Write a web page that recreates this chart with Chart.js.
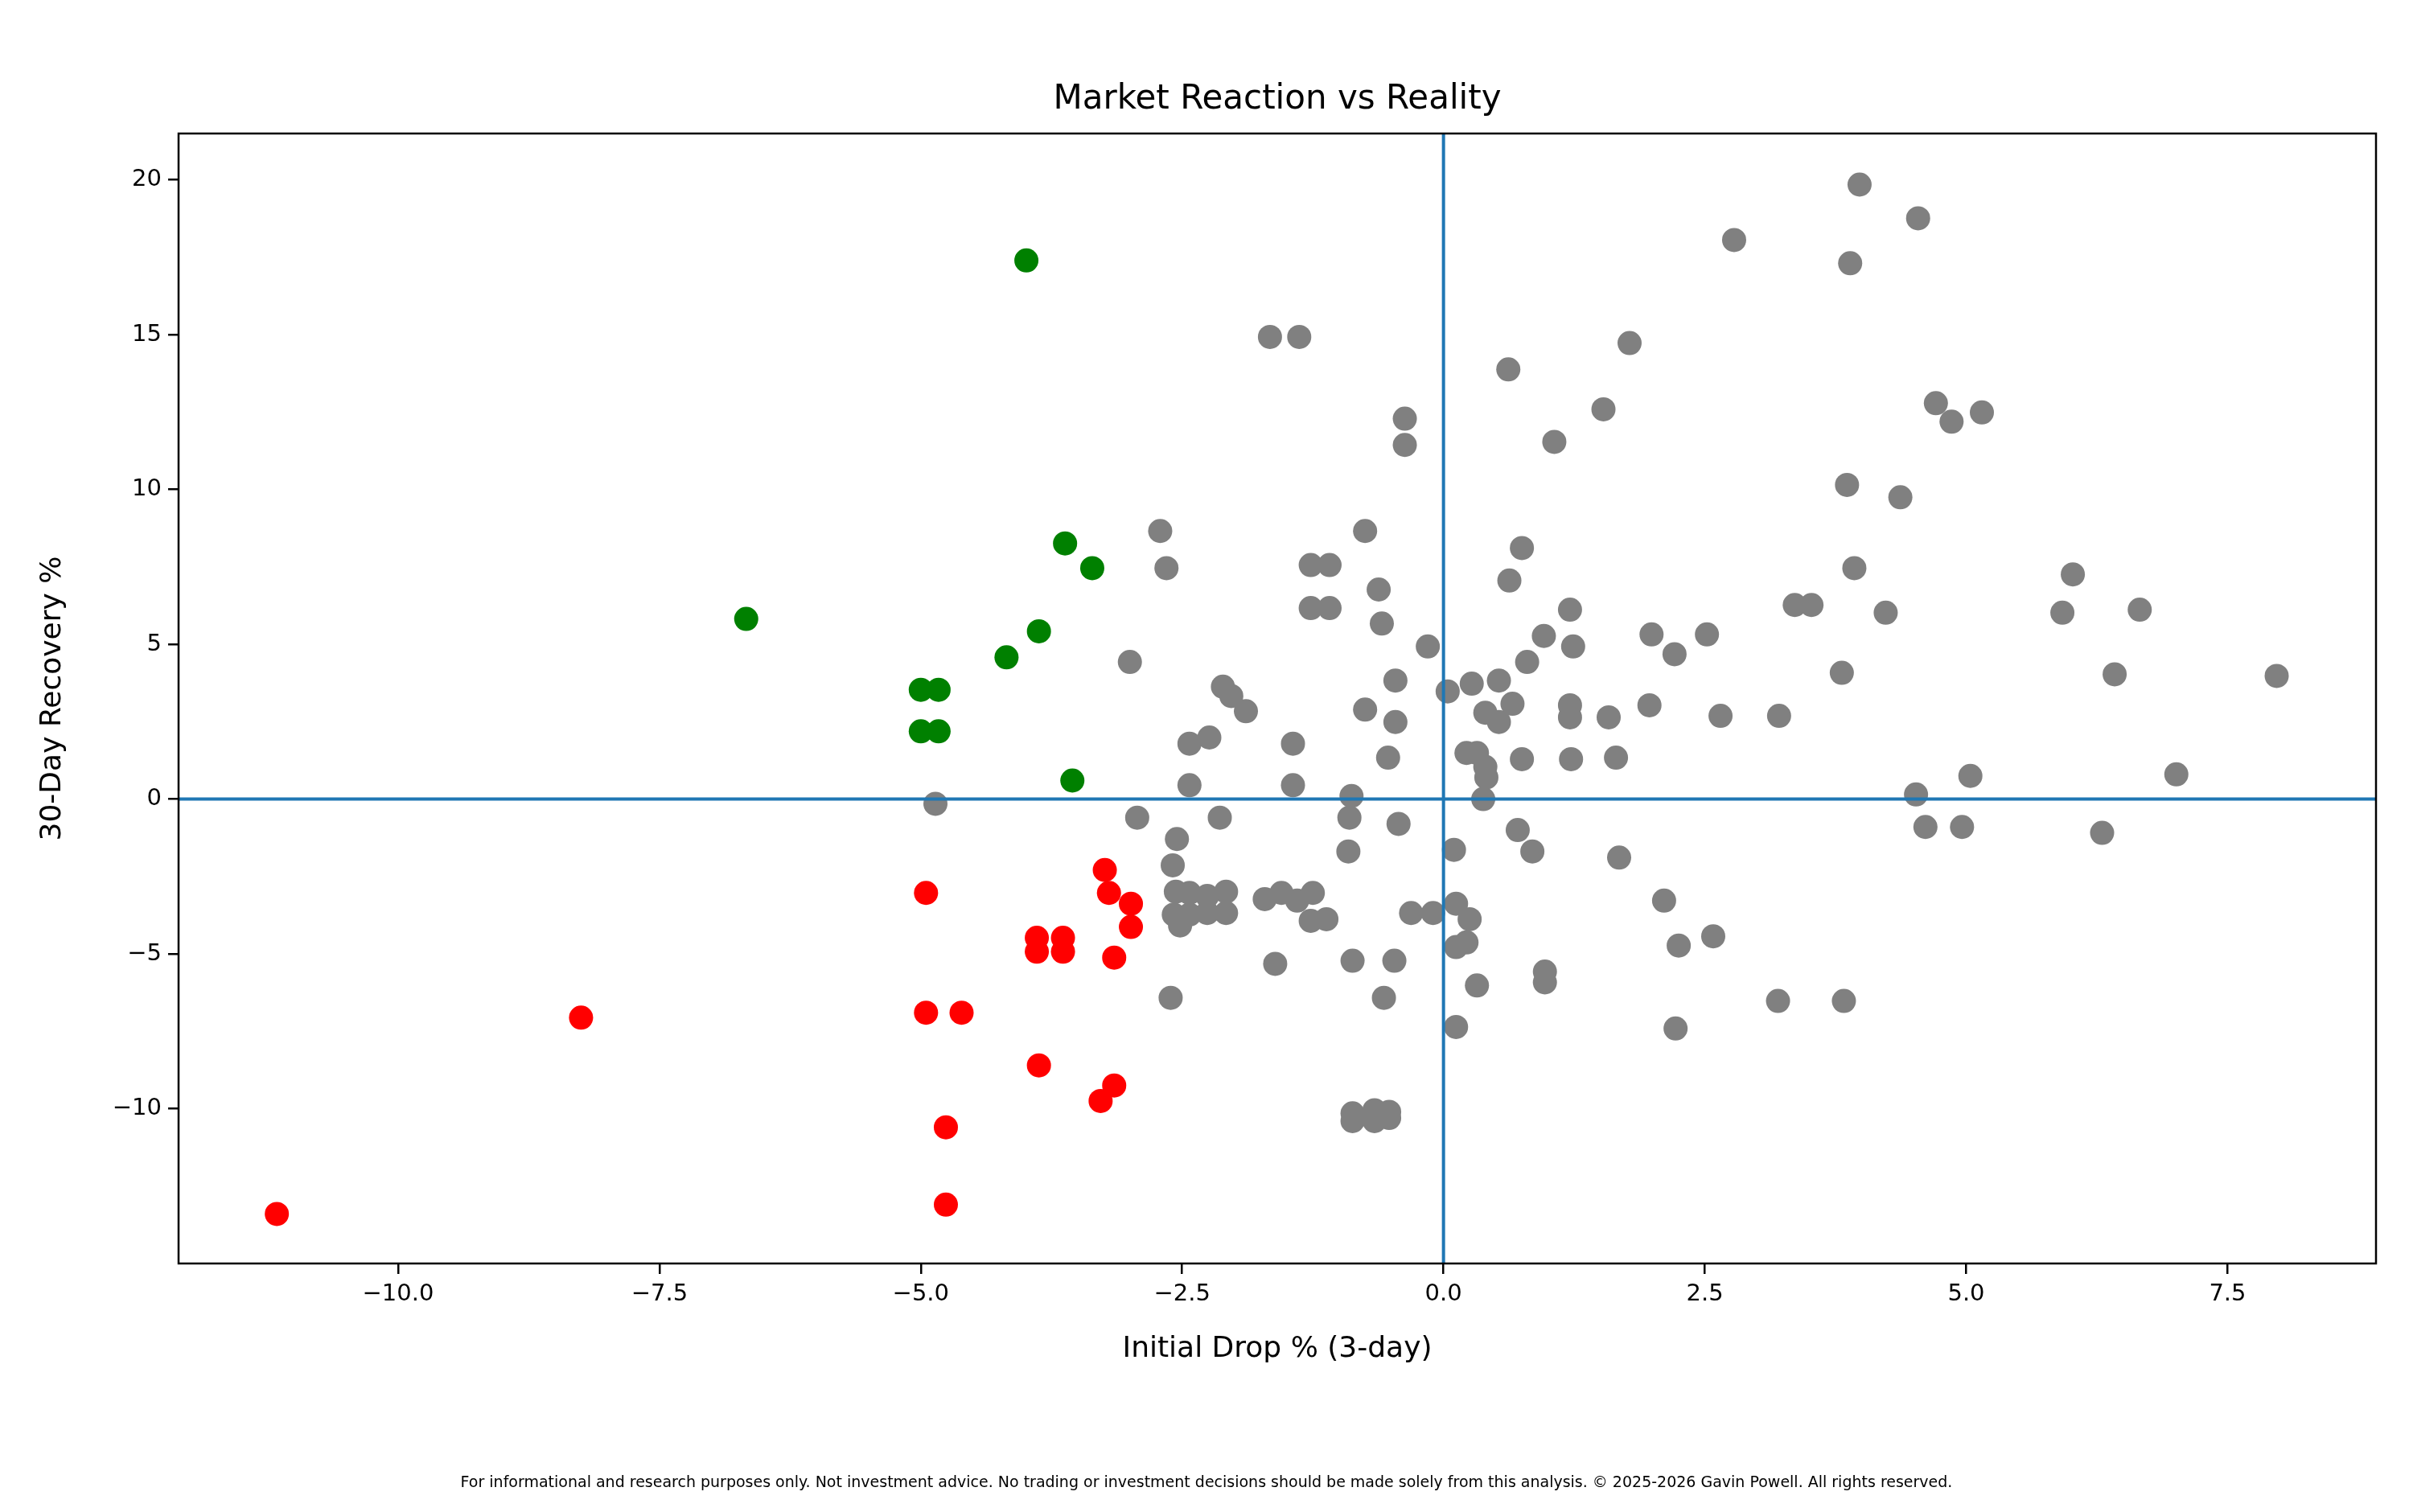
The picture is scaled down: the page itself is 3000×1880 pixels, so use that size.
<!DOCTYPE html>
<html>
<head>
<meta charset="utf-8">
<script src="https://cdn.jsdelivr.net/npm/chart.js@4"></script>
<style>
  html, body { margin: 0; padding: 0; background: #fff; }
  #wrap { width: 3000px; height: 1880px; }
</style>
</head>
<body>
<div id="wrap"><canvas id="c" width="3000" height="1880"></canvas></div>
<script>
// Werte: [Initial Drop %, 30-Day Recovery %]
const greenPoints = [
  [-3.99, 17.4], [-3.62, 8.26], [-3.36, 7.46], [-6.67, 5.82], [-3.87, 5.42],
  [-4.18, 4.58], [-5.0, 3.53], [-4.83, 3.53], [-5.0, 2.19], [-4.83, 2.19], [-3.55, 0.6]
];
const redPoints = [
  [-11.16, -13.4], [-8.25, -7.06], [-4.95, -3.03], [-4.95, -6.9], [-4.61, -6.9],
  [-4.76, -10.6], [-4.76, -13.1], [-3.89, -4.48], [-3.89, -4.93], [-3.64, -4.48],
  [-3.64, -4.93], [-3.87, -8.6], [-3.24, -2.29], [-3.2, -3.03], [-2.99, -3.38],
  [-2.99, -4.13], [-3.15, -5.12], [-3.15, -9.25], [-3.28, -9.75]
];
const grayPoints = [
  [3.98, 19.85], [4.54, 18.76], [2.78, 18.06], [3.89, 17.31], [-1.66, 14.93], [-1.38, 14.93],
  [1.78, 14.73], [0.62, 13.88], [1.53, 12.59], [4.71, 12.79], [4.86, 12.19], [5.15, 12.49],
  [-0.37, 12.29], [-0.37, 11.44], [1.06, 11.54], [3.86, 10.15], [4.37, 9.75], [-2.71, 8.66],
  [-0.75, 8.66], [0.75, 8.11], [3.93, 7.46], [-2.65, 7.46], [-1.27, 7.56], [-1.09, 7.56],
  [6.02, 7.26], [0.63, 7.06], [-0.62, 6.77], [-1.27, 6.17], [-1.09, 6.17], [1.21, 6.12],
  [3.36, 6.27], [3.52, 6.27], [4.23, 6.02], [5.92, 6.02], [6.66, 6.12], [-0.59, 5.67],
  [0.96, 5.27], [1.99, 5.32], [2.52, 5.32], [-0.15, 4.93], [1.24, 4.93], [2.21, 4.68],
  [-3.0, 4.43], [0.8, 4.43], [3.81, 4.08], [6.42, 4.03], [7.97, 3.98], [-0.46, 3.83],
  [0.27, 3.73], [0.53, 3.83], [-2.11, 3.63], [-2.03, 3.33], [0.04, 3.48], [0.66, 3.08],
  [1.21, 3.03], [1.97, 3.03], [-1.89, 2.84], [-0.75, 2.89], [0.4, 2.79], [0.53, 2.49],
  [-0.46, 2.49], [1.21, 2.64], [1.58, 2.64], [2.65, 2.69], [3.21, 2.69], [-2.24, 1.99],
  [-2.43, 1.79], [-1.44, 1.79], [0.22, 1.49], [0.32, 1.49], [-0.53, 1.34], [0.75, 1.29],
  [1.22, 1.29], [1.65, 1.34], [0.4, 1.04], [0.41, 0.7], [5.04, 0.75], [7.01, 0.8],
  [-2.43, 0.45], [-1.44, 0.45], [-0.88, 0.1], [0.38, 0], [4.52, 0.15], [-4.86, -0.15],
  [-2.93, -0.6], [-2.55, -1.29], [-2.14, -0.6], [-0.9, -0.6], [-0.43, -0.8], [0.71, -1.0],
  [4.61, -0.9], [4.96, -0.9], [6.3, -1.09], [-0.91, -1.69], [0.1, -1.64], [0.85, -1.69],
  [1.68, -1.89], [-2.59, -2.14], [-2.56, -2.99], [-2.08, -2.99], [-2.26, -3.13], [-2.43, -3.03],
  [-1.71, -3.23], [-1.55, -3.03], [-1.4, -3.28], [-1.25, -3.03], [0.12, -3.38], [2.11, -3.28],
  [-2.58, -3.73], [-2.43, -3.73], [-2.26, -3.68], [-2.08, -3.68], [-2.52, -4.08], [-1.27, -3.93],
  [-1.12, -3.88], [-0.31, -3.68], [-0.1, -3.68], [0.25, -3.88], [2.58, -4.43], [0.12, -4.78],
  [0.22, -4.63], [2.25, -4.73], [-1.61, -5.32], [-0.87, -5.22], [-0.47, -5.22], [0.97, -5.57],
  [0.97, -5.92], [0.32, -6.02], [-2.61, -6.42], [-0.57, -6.42], [3.2, -6.52], [3.83, -6.52],
  [0.12, -7.36], [2.22, -7.41], [-0.87, -10.15], [-0.87, -10.4], [-0.66, -10.05], [-0.66, -10.4],
  [-0.52, -10.1], [-0.52, -10.3]
];
const xTicks = [-10, -7.5, -5, -2.5, 0, 2.5, 5, 7.5];
const yTicks = [-10, -5, 0, 5, 10, 15, 20];

const toXY = arr => arr.map(p => ({ x: p[0], y: p[1] }));
const minus = s => s.replace('-', '\u2212');
const FONT = 'DejaVu Sans';

const decor = {
  id: 'decor',
  afterDatasetsDraw(chart) {
    const { ctx, chartArea: a, scales } = chart;
    ctx.save();
    ctx.strokeStyle = '#1f77b4';
    ctx.lineWidth = 4;
    const x0 = scales.x.getPixelForValue(0);
    const y0 = scales.y.getPixelForValue(0);
    ctx.beginPath();
    ctx.moveTo(x0, a.top); ctx.lineTo(x0, a.bottom);
    ctx.moveTo(a.left, y0); ctx.lineTo(a.right, y0);
    ctx.stroke();
    ctx.strokeStyle = '#000';
    ctx.lineWidth = 2.5;
    ctx.strokeRect(a.left, a.top, a.right - a.left, a.bottom - a.top);
    ctx.restore();
  },
  afterDraw(chart) {
    const { ctx, chartArea: a } = chart;
    ctx.save();
    ctx.fillStyle = '#000';
    ctx.textAlign = 'center';
    ctx.textBaseline = 'middle';
    ctx.font = `42px "${FONT}"`;
    ctx.fillText('Market Reaction vs Reality', (a.left + a.right) / 2, 124);
    ctx.font = `36px "${FONT}"`;
    ctx.fillText('Initial Drop % (3-day)', (a.left + a.right) / 2, 1678);
    ctx.font = `19px "${FONT}"`;
    ctx.fillText('For informational and research purposes only. Not investment advice. No trading or investment decisions should be made solely from this analysis. \u00a9 2025-2026 Gavin Powell. All rights reserved.', 1500, 1844);
    ctx.translate(66, (a.top + a.bottom) / 2);
    ctx.rotate(-Math.PI / 2);
    ctx.font = `36px "${FONT}"`;
    ctx.fillText('30-Day Recovery %', 0, 0);
    ctx.restore();
  }
};

const ds = (data, color) => ({
  data: toXY(data), backgroundColor: color, borderColor: color,
  pointRadius: 15, pointHoverRadius: 15, borderWidth: 0
});

new Chart(document.getElementById('c'), {
  type: 'scatter',
  data: { datasets: [ds(grayPoints, '#808080'), ds(greenPoints, '#008000'), ds(redPoints, '#ff0000')] },
  options: {
    responsive: false,
    animation: false,
    layout: { padding: { left: 0, right: 46, top: 166, bottom: 0 } },
    plugins: { legend: { display: false }, tooltip: { enabled: false } },
    scales: {
      x: {
        type: 'linear', min: -12.1, max: 8.92,
        afterBuildTicks: s => { s.ticks = xTicks.map(v => ({ value: v })); },
        afterFit: s => { s.height = 309; },
        grid: { drawOnChartArea: false, tickLength: 13, color: '#000', lineWidth: 2.5 },
        border: { display: false },
        ticks: { color: '#000', font: { family: FONT, size: 29 }, padding: 8,
          callback: v => minus(v.toFixed(1)) }
      },
      y: {
        type: 'linear', min: -15.0, max: 21.5,
        afterBuildTicks: s => { s.ticks = yTicks.map(v => ({ value: v })); },
        afterFit: s => { s.width = 222; },
        grid: { drawOnChartArea: false, tickLength: 13, color: '#000', lineWidth: 2.5 },
        border: { display: false },
        ticks: { color: '#000', font: { family: FONT, size: 29 }, padding: 8,
          callback: v => minus(String(v)) }
      }
    }
  },
  plugins: [decor]
});
</script>
</body>
</html>
